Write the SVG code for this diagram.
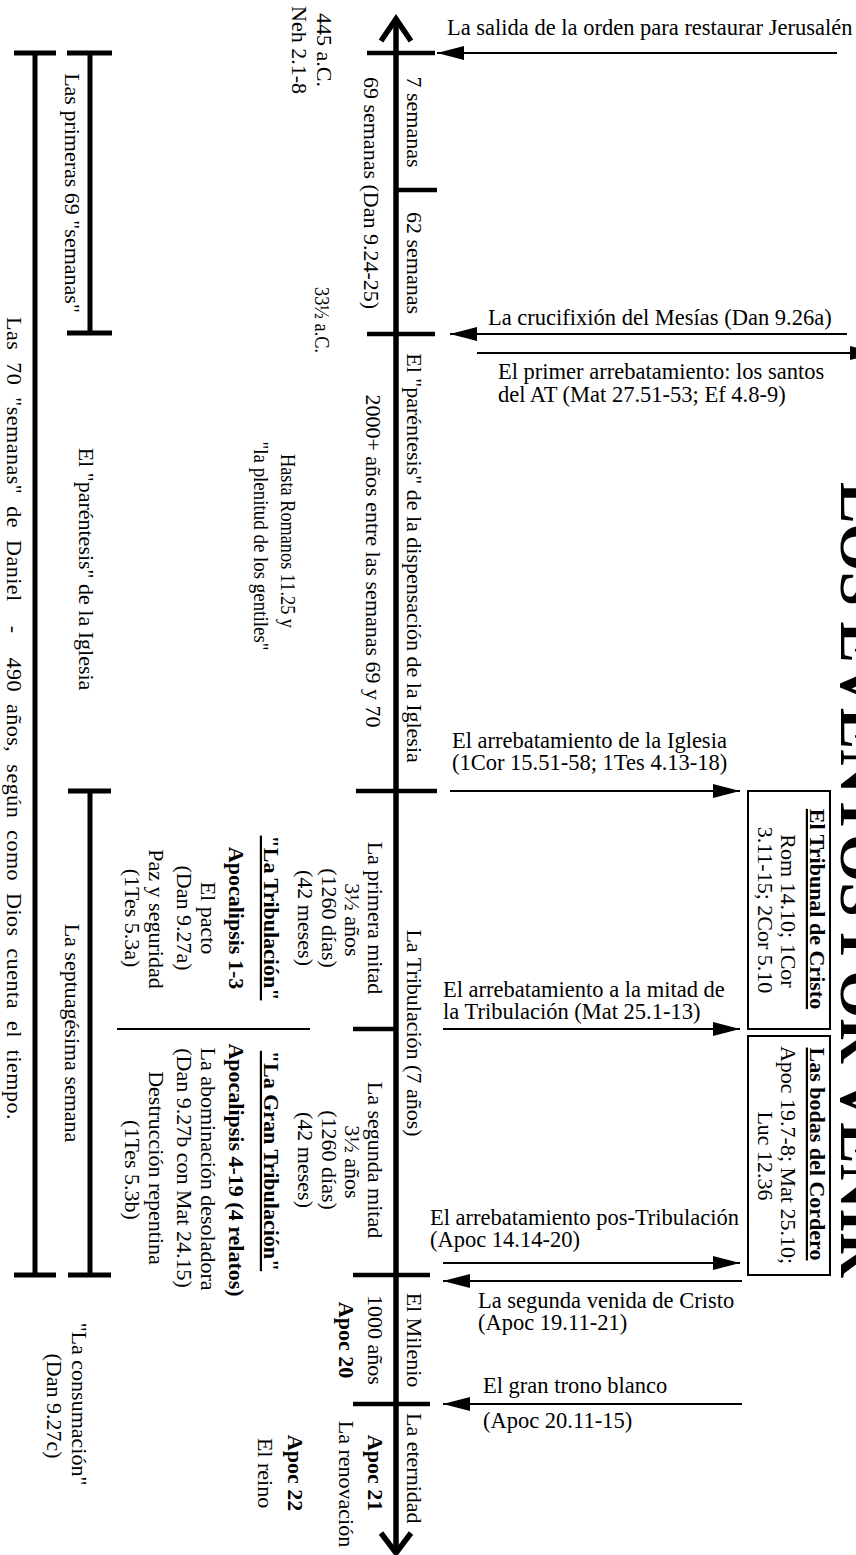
<svg xmlns="http://www.w3.org/2000/svg" width="856" height="1555" viewBox="0 0 856 1555" font-family="Liberation Serif, Times New Roman, serif">
<style>
text{font-family:"Liberation Serif","Times New Roman",serif;font-size:22px;fill:#000}
.h{font-size:22.5px}
.b{font-weight:bold}
.u{text-decoration:underline}
.m{text-anchor:middle}
.ax{stroke:#000;stroke-width:5.5;fill:none}
.tk{stroke:#000;stroke-width:4.5;fill:none}
.br{stroke:#000;stroke-width:5;fill:none}
.ar{stroke:#000;stroke-width:2;fill:none}
.bx{stroke:#000;stroke-width:2;fill:#fff}
</style>
<defs>
<marker id="ah" markerUnits="userSpaceOnUse" markerWidth="28" markerHeight="14" refX="27" refY="7" orient="auto">
<path d="M0,0 L27,7 L0,14 z" fill="#000"/>
</marker>
</defs>
<rect width="856" height="1555" fill="#fff"/>

<g id="title">
<text class="b" style="font-size:62px" transform="translate(841,482) rotate(90)">LOS EVENTOS POR VENIR</text>
</g>

<g id="timeline">
<line class="ax" x1="396" y1="20" x2="396" y2="1551"/>
<polyline class="ax" points="381,41 396,19 411,41"/>
<polyline class="ax" points="381,1533 396,1553 411,1533"/>
<line class="tk" x1="367" y1="53" x2="435" y2="53"/>
<line class="tk" x1="396" y1="190" x2="437" y2="190"/>
<line class="tk" x1="367" y1="334" x2="435" y2="334"/>
<line class="tk" x1="356" y1="791" x2="437" y2="791"/>
<line class="tk" x1="353" y1="1029" x2="396" y2="1029"/>
<line class="tk" x1="353" y1="1275" x2="430" y2="1275"/>
<line class="tk" x1="353" y1="1404" x2="430" y2="1404"/>
</g>

<g id="periods">
<text class="m" transform="translate(407,122) rotate(90)">7 semanas</text>
<text class="m" transform="translate(407,263) rotate(90)">62 semanas</text>
<text class="m" transform="translate(407,558) rotate(90)">El "paréntesis" de la dispensación de la Iglesia</text>
<text class="m" transform="translate(407,1033) rotate(90)">La Tribulación (7 años)</text>
<text class="m" transform="translate(407,1340) rotate(90)">El Milenio</text>
<text transform="translate(407,1413) rotate(90)">La eternidad</text>
</g>

<g id="durations">
<text class="m" transform="translate(364,193) rotate(90)">69 semanas (Dan 9.24-25)</text>
<text class="m" transform="translate(366,561) rotate(90)">2000+ años entre las semanas 69 y 70</text>
<text class="m" transform="translate(368,918) rotate(90)">La primera mitad</text>
<text class="m" transform="translate(345,920) rotate(90)">3½ años</text>
<text class="m" transform="translate(322,918) rotate(90)">(1260 días)</text>
<text class="m" transform="translate(298,918) rotate(90)">(42 meses)</text>
<text class="m" transform="translate(368,1160) rotate(90)">La segunda mitad</text>
<text class="m" transform="translate(345,1162) rotate(90)">3½ años</text>
<text class="m" transform="translate(322,1160) rotate(90)">(1260 días)</text>
<text class="m" transform="translate(298,1160) rotate(90)">(42 meses)</text>
<text class="m" transform="translate(368,1340) rotate(90)">1000 años</text>
<text class="m b" transform="translate(339,1340) rotate(90)">Apoc 20</text>
<text class="m b" transform="translate(368,1473) rotate(90)">Apoc 21</text>
<text class="m" transform="translate(339,1484) rotate(90)">La renovación</text>
</g>

<g id="dates">
<text class="m" transform="translate(317,50) rotate(90)">445 a.C.</text>
<text class="m" transform="translate(292,50) rotate(90)">Neh 2.1-8</text>
<text class="m" transform="translate(315,320) rotate(90)" textLength="66" lengthAdjust="spacingAndGlyphs">33½ a.C.</text>
<text class="m" transform="translate(281,541) rotate(90)" textLength="174" lengthAdjust="spacingAndGlyphs">Hasta Romanos 11.25 y</text>
<text class="m" transform="translate(254,546) rotate(90)" textLength="209" lengthAdjust="spacingAndGlyphs">"la plenitud de los gentiles"</text>
</g>

<g id="tribulation-first">
<text class="m b u" transform="translate(264,918) rotate(90)">"La Tribulación"</text>
<text class="m b" transform="translate(229,918) rotate(90)">Apocalipsis 1-3</text>
<text class="m" transform="translate(201,918) rotate(90)">El pacto</text>
<text class="m" transform="translate(177,918) rotate(90)">(Dan 9.27a)</text>
<text class="m" transform="translate(149,919) rotate(90)">Paz y seguridad</text>
<text class="m" transform="translate(125,918) rotate(90)">(1Tes 5.3a)</text>
</g>
<line id="tribulation-divider" class="ar" x1="117" y1="1029" x2="310" y2="1029"/>
<g id="tribulation-second">
<text class="m b u" transform="translate(264,1161) rotate(90)">"La Gran Tribulación"</text>
<text class="m b" transform="translate(229,1170) rotate(90)">Apocalipsis 4-19 (4 relatos)</text>
<text class="m" transform="translate(201,1169) rotate(90)">La abominación desoladora</text>
<text class="m" transform="translate(177,1168) rotate(90)">(Dan 9.27b con Mat 24.15)</text>
<text class="m" transform="translate(149,1168) rotate(90)">Destrucción repentina</text>
<text class="m" transform="translate(125,1170) rotate(90)">(1Tes 5.3b)</text>
</g>

<g id="kingdom">
<text class="m b" transform="translate(288,1473) rotate(90)">Apoc 22</text>
<text class="m" transform="translate(258,1473) rotate(90)">El reino</text>
</g>

<g id="brackets">
<line class="br" x1="90" y1="53" x2="90" y2="333"/>
<line class="br" x1="67" y1="53" x2="112" y2="53"/>
<line class="br" x1="67" y1="333" x2="112" y2="333"/>
<line class="br" x1="90" y1="791" x2="90" y2="1275"/>
<line class="br" x1="68" y1="791" x2="111" y2="791"/>
<line class="br" x1="68" y1="1275" x2="111" y2="1275"/>
<line class="br" x1="35" y1="53" x2="35" y2="1275"/>
<line class="br" x1="14" y1="53" x2="56" y2="53"/>
<line class="br" x1="14" y1="1275" x2="56" y2="1275"/>
</g>

<g id="bracket-labels">
<text class="m" transform="translate(65,193) rotate(90)">Las primeras 69 "semanas"</text>
<text class="m" transform="translate(79,569) rotate(90)">El "paréntesis" de la Iglesia</text>
<text class="m" transform="translate(65,1033) rotate(90)">La septuagésima semana</text>
<text style="letter-spacing:0.5px;word-spacing:6px" transform="translate(7,317) rotate(90)" xml:space="preserve">Las 70 "semanas" de Daniel  -  490 años, según como Dios cuenta el tiempo.</text>
<text class="m" transform="translate(72,1404) rotate(90)">"La consumación"</text>
<text class="m" transform="translate(47,1406) rotate(90)">(Dan 9.27c)</text>
</g>

<g id="box-tribunal">
<rect class="bx" x="748" y="791" width="82" height="238"/>
<text class="m b u" transform="translate(810,909) rotate(90)">El Tribunal de Cristo</text>
<text class="m" transform="translate(781,911) rotate(90)">Rom 14.10; 1Cor</text>
<text class="m" transform="translate(758,910) rotate(90)">3.11-15; 2Cor 5.10</text>
</g>

<g id="box-bodas">
<rect class="bx" x="748" y="1036" width="82" height="239"/>
<text class="m b u" transform="translate(810,1154) rotate(90)">Las bodas del Cordero</text>
<text class="m" transform="translate(781,1155) rotate(90)">Apoc 19.7-8; Mat 25.10;</text>
<text class="m" transform="translate(758,1156) rotate(90)">Luc 12.36</text>
</g>

<g id="connectors">
<line class="ar" x1="837" y1="53" x2="437" y2="53" marker-end="url(#ah)"/>
<line class="ar" x1="847" y1="334" x2="450" y2="334" marker-end="url(#ah)"/>
<line class="ar" x1="477" y1="353" x2="877" y2="353" marker-end="url(#ah)"/>
<line class="ar" x1="450" y1="791" x2="740" y2="791" marker-end="url(#ah)"/>
<line class="ar" x1="443" y1="1029" x2="740" y2="1029" marker-end="url(#ah)"/>
<line class="ar" x1="443" y1="1263" x2="740" y2="1263" marker-end="url(#ah)"/>
<line class="ar" x1="742" y1="1281" x2="443" y2="1281" marker-end="url(#ah)"/>
<line class="ar" x1="742" y1="1404" x2="443" y2="1404" marker-end="url(#ah)"/>
</g>

<g id="event-labels">
<text class="h" x="447" y="35">La salida de la orden para restaurar Jerusalén</text>
<text class="h" x="488" y="325">La crucifixión del Mesías (Dan 9.26a)</text>
<text class="h" x="498" y="379">El primer arrebatamiento: los santos</text>
<text class="h" x="498" y="402">del AT (Mat 27.51-53; Ef 4.8-9)</text>
<text class="h" x="452" y="748">El arrebatamiento de la Iglesia</text>
<text class="h" x="452" y="770">(1Cor 15.51-58; 1Tes 4.13-18)</text>
<text class="h" x="443" y="997">El arrebatamiento a la mitad de</text>
<text class="h" x="443" y="1019">la Tribulación (Mat 25.1-13)</text>
<text class="h" x="430" y="1225">El arrebatamiento pos-Tribulación</text>
<text class="h" x="430" y="1247">(Apoc 14.14-20)</text>
<text class="h" x="478" y="1308">La segunda venida de Cristo</text>
<text class="h" x="478" y="1330">(Apoc 19.11-21)</text>
<text class="h" x="483" y="1393">El gran trono blanco</text>
<text class="h" x="483" y="1428">(Apoc 20.11-15)</text>
</g>
</svg>
